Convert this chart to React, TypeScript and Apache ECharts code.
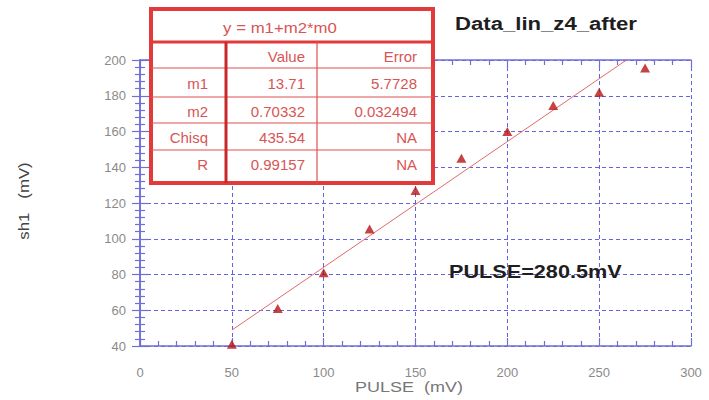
import React, { useEffect, useRef } from "react";
import * as echarts from "echarts";

const pulseX = [50, 75, 100, 125, 150, 175, 200, 225, 250, 275];
const sh1Y = [41, 61, 81, 105.5, 127, 145, 160, 174.5, 182, 195.5];
const fitM1 = 13.71;
const fitM2 = 0.70332;
const fitRange = [50, 264.9];

const tableTitle = "y = m1+m2*m0";
const tableHeader = ["", "Value", "Error"];
const tableRowNames = ["m1", "m2", "Chisq", "R"];
const tableValues = ["13.71", "0.70332", "435.54", "0.99157"];
const tableErrors = ["5.7728", "0.032494", "NA", "NA"];

const chartTitle = "Data_lin_z4_after";
const annotation = "PULSE=280.5mV";
const xAxisName = "PULSE  (mV)";
const yAxisName = "sh1   (mV)";

const FONT = "Liberation Sans";
const AXIS_COLOR = "#6f6fd6";
const GRID_COLOR = "#6262e6";
const TABLE_RED = "#e23a3a";
const TABLE_TEXT = "#d85555";

function makeAxis(kind: "x" | "y", main: boolean) {
  const isX = kind === "x";
  return {
    type: "value",
    min: isX ? 0 : 40,
    max: isX ? 300 : 200,
    interval: isX ? 50 : 20,
    position: isX ? (main ? "bottom" : "top") : main ? "left" : "right",
    axisLine: { show: true, lineStyle: { color: AXIS_COLOR, width: 1.5 } },
    axisTick: { show: true, inside: true, length: 8, lineStyle: { color: AXIS_COLOR, width: 1.2 } },
    minorTick: { show: true, splitNumber: 5, length: 5, lineStyle: { color: AXIS_COLOR, width: 1.2 } },
    axisLabel: main
      ? { show: true, color: "#8a8a8a", fontFamily: FONT, fontSize: 13, margin: isX ? 20 : 14 }
      : { show: false },
    splitLine: main
      ? { show: true, lineStyle: { color: GRID_COLOR, type: [4, 3], width: 1 } }
      : { show: false },
  };
}

export default function App() {
  const ref = useRef<HTMLDivElement>(null);

  useEffect(() => {
    if (!ref.current) return;
    const chart = echarts.init(ref.current, null, { renderer: "svg" });

    const fitLine = fitRange.map((x) => [x, fitM1 + fitM2 * x]);

    const tblX0 = 151, tblX1 = 433, tblY0 = 9, tblY1 = 183;
    const rowEdges = [42, 68, 97, 123, 150, 177];
    const colEdges = [tblX0, 226, 317, tblX1];
    const colRightText = [208, 305, 417];

    const graphics: any[] = [];
    graphics.push({
      type: "rect",
      shape: { x: tblX0, y: tblY0, width: tblX1 - tblX0, height: tblY1 - tblY0 },
      style: { fill: "#ffffff", stroke: TABLE_RED, lineWidth: 4 },
      z: 100,
    });
    graphics.push({
      type: "line",
      shape: { x1: tblX0, y1: rowEdges[0], x2: tblX1, y2: rowEdges[0] },
      style: { stroke: TABLE_RED, lineWidth: 3 },
      z: 101,
    });
    for (let i = 1; i < rowEdges.length - 1; i++) {
      graphics.push({
        type: "line",
        shape: { x1: tblX0, y1: rowEdges[i], x2: tblX1, y2: rowEdges[i] },
        style: { stroke: "#e05050", lineWidth: 1.2 },
        z: 101,
      });
    }
    graphics.push({
      type: "line",
      shape: { x1: colEdges[1], y1: rowEdges[0], x2: colEdges[1], y2: tblY1 },
      style: { stroke: "#c82828", lineWidth: 3 },
      z: 101,
    });
    graphics.push({
      type: "line",
      shape: { x1: colEdges[2], y1: rowEdges[0], x2: colEdges[2], y2: tblY1 },
      style: { stroke: "#e05050", lineWidth: 1.2 },
      z: 101,
    });
    graphics.push({
      type: "text",
      x: 280,
      y: (tblY0 + rowEdges[0]) / 2 + 2,
      scaleX: 1.12,
      style: { text: tableTitle, fill: TABLE_TEXT, font: `15px "${FONT}"`, textAlign: "center", textVerticalAlign: "middle" },
      z: 102,
    });
    const rows = [tableHeader, ...tableRowNames.map((n, i) => [n, tableValues[i], tableErrors[i]])];
    rows.forEach((row, r) => {
      const cy = (rowEdges[r] + rowEdges[r + 1]) / 2 + 1;
      row.forEach((cell, c) => {
        if (!cell) return;
        graphics.push({
          type: "text",
          x: colRightText[c],
          y: cy,
          style: { text: cell, fill: TABLE_TEXT, font: `15px "${FONT}"`, textAlign: "right", textVerticalAlign: "middle" },
          z: 102,
        });
      });
    });
    graphics.push({
      type: "text",
      x: 455,
      y: 24,
      scaleX: 1.23,
      style: { text: chartTitle, fill: "#1e1e1e", font: `bold 18px "${FONT}"`, textAlign: "left", textVerticalAlign: "middle" },
      z: 102,
    });
    graphics.push({
      type: "text",
      x: 449,
      y: 271,
      scaleX: 1.14,
      style: { text: annotation, fill: "#1e1e1e", font: `bold 19px "${FONT}"`, textAlign: "left", textVerticalAlign: "middle" },
      z: 102,
    });
    graphics.push({
      type: "text",
      x: 409,
      y: 387,
      scaleX: 1.2,
      style: { text: xAxisName, fill: "#777777", font: `15px "${FONT}"`, textAlign: "center", textVerticalAlign: "middle" },
      z: 102,
    });
    graphics.push({
      type: "text",
      x: 24,
      y: 201,
      rotation: Math.PI / 2,
      scaleX: 1.2,
      style: { text: yAxisName, fill: "#444444", font: `14px "${FONT}"`, textAlign: "center", textVerticalAlign: "middle" },
      z: 102,
    });

    chart.setOption({
      animation: false,
      backgroundColor: "#ffffff",
      grid: { left: 140, right: 18, top: 60, bottom: 54, containLabel: false },
      xAxis: [makeAxis("x", true), makeAxis("x", false)],
      yAxis: [makeAxis("y", true), makeAxis("y", false)],
      series: [
        {
          type: "line",
          data: fitLine,
          showSymbol: false,
          symbol: "none",
          lineStyle: { color: "#e06a6a", width: 1 },
          z: 3,
        },
        {
          type: "scatter",
          data: pulseX.map((x, i) => [x, sh1Y[i]]),
          symbol: "triangle",
          symbolSize: [10, 9],
          itemStyle: { color: "#b81414" },
          z: 4,
        },
      ],
      graphic: graphics,
    });

    return () => chart.dispose();
  }, []);

  return (
    <div
      ref={ref}
      style={{ position: "absolute", left: 0, top: 0, width: 709, height: 400, background: "#fff" }}
    />
  );
}
